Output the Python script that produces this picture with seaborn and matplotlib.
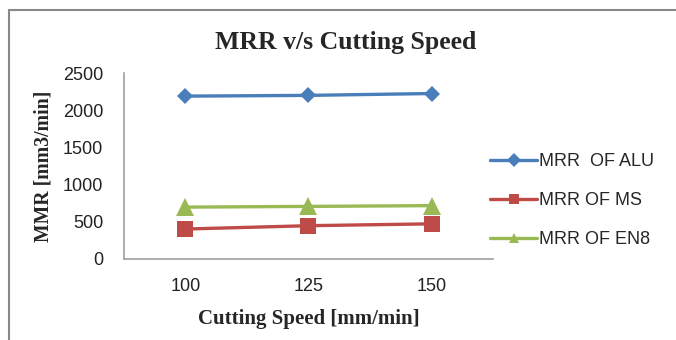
import matplotlib
matplotlib.use("Agg")
import matplotlib.pyplot as plt
from matplotlib.lines import Line2D
import seaborn as sns
import pandas as pd

speeds = ["100", "125", "150"]
mrr_alu = [2190, 2200, 2225]
mrr_ms = [400, 445, 470]
mrr_en8 = [695, 705, 715]
series_names = ["MRR  OF ALU", "MRR OF MS", "MRR OF EN8"]
yticks = [0, 500, 1000, 1500, 2000, 2500]

sns.set_theme(style="white")
plt.rcParams["font.family"] = ["Liberation Sans", "DejaVu Sans"]

rows = []
for name, vals in zip(series_names, [mrr_alu, mrr_ms, mrr_en8]):
    for s, v in zip(speeds, vals):
        rows.append({"speed": s, "mrr": v, "series": name})
df = pd.DataFrame(rows)

palette = {series_names[0]: "#4A7EBB", series_names[1]: "#BE4B48", series_names[2]: "#98B954"}
markers = {series_names[0]: "D", series_names[1]: "s", series_names[2]: "^"}
msizes = {series_names[0]: 8.5, series_names[1]: 11, series_names[2]: 12.5}

fig = plt.figure(figsize=(6.76, 3.40), dpi=100)
ax = fig.add_axes([0.1834, 0.239, 0.7293 - 0.1834, 0.785 - 0.239])

sns.lineplot(data=df, x="speed", y="mrr", hue="series", style="series",
             palette=palette, markers=markers, dashes=False, linewidth=2.4,
             markersize=9, markeredgewidth=0, ax=ax, legend=False, sort=False)
for line, name in zip(ax.lines, series_names):
    line.set_markersize(msizes[name])

ax.set_xlim(-0.5, 2.5)
ax.set_ylim(0, 2500)
ax.set_yticks(yticks)
ax.tick_params(axis="both", length=0, labelsize=13, labelcolor="#222222")
ax.tick_params(axis="y", pad=15)
ax.tick_params(axis="x", pad=14)
for sp in ["top", "right"]:
    ax.spines[sp].set_visible(False)
for sp in ["left", "bottom"]:
    ax.spines[sp].set_color("#a0a0a0")
    ax.spines[sp].set_linewidth(1.2)

ax.set_xlabel("Cutting Speed [mm/min]", family=["Liberation Serif"], fontweight="bold", fontsize=15, labelpad=10)
ax.set_ylabel("MMR [mm3/min]", family=["Liberation Serif"], fontweight="bold", fontsize=14.2, labelpad=7)
fig.text(0.512, 0.876, "MRR v/s Cutting Speed", family=["Liberation Serif"], fontweight="bold",
         fontsize=18.5, ha="center", va="center")

handles = [Line2D([], [], color=palette[n], marker=markers[n], markersize=7.5, markeredgewidth=0, linewidth=2.4)
           for n in series_names]
fig.legend(handles, series_names, loc="center left", bbox_to_anchor=(0.712, 0.41),
           frameon=False, fontsize=13, handlelength=2.6, handletextpad=0.1, labelspacing=1.22,
           borderpad=0)

fig.add_artist(Line2D([9 / 676, 9 / 676], [0, 1 - 10 / 340], color="#888888", linewidth=1.5))
fig.add_artist(Line2D([9 / 676, 1], [1 - 10 / 340, 1 - 10 / 340], color="#888888", linewidth=1.5))

fig.savefig("out.png", dpi=100)
